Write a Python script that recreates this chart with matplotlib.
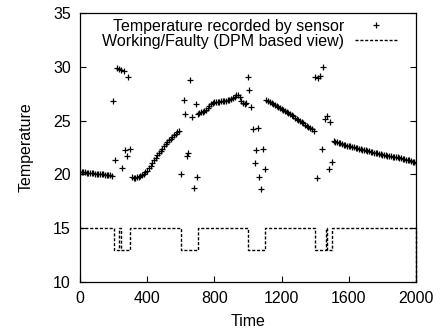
import numpy as np
import matplotlib
matplotlib.use("Agg")
import matplotlib.pyplot as plt

plt.rcParams['font.family'] = ['Liberation Sans', 'DejaVu Sans']
plt.rcParams['font.size'] = 11.5

# ---- sensor readings, smooth parts (sampled every 10 time units) ----
seg_a_time = np.arange(0, 200, 10)
seg_a_temp = [20.25, 20.22, 20.2, 20.18, 20.16, 20.15, 20.13, 20.12, 20.1, 20.08,
              20.06, 20.05, 20.03, 20.02, 20.0, 19.98, 19.96, 19.94, 19.92, 19.88]

seg_b_time = np.arange(310, 600, 10)
seg_b_temp = [19.72, 19.7, 19.7, 19.72, 19.78, 19.85, 19.95, 20.05, 20.2, 20.35,
              20.55, 20.8, 21.05, 21.3, 21.55, 21.8, 22.0, 22.2, 22.4, 22.6,
              22.8, 22.97, 23.15, 23.32, 23.48, 23.63, 23.78, 23.92, 24.05]

seg_c_time = np.arange(700, 1000, 10)
seg_c_temp = [25.65, 25.7, 25.75, 25.8, 25.85, 25.95, 26.15, 26.35, 26.5, 26.62,
              26.7, 26.72, 26.74, 26.75, 26.77, 26.8, 26.82, 26.86, 26.9, 26.95,
              27.02, 27.1, 27.22, 27.35, 27.42, 27.2, 26.85, 26.6, 26.55, 26.65]

seg_d_time = np.arange(1110, 1400, 10)
seg_d_temp = [26.9, 26.82, 26.72, 26.63, 26.55, 26.45, 26.36, 26.27, 26.17, 26.08,
              25.98, 25.88, 25.78, 25.68, 25.58, 25.48, 25.38, 25.27, 25.17, 25.06,
              24.96, 24.85, 24.74, 24.63, 24.52, 24.41, 24.3, 24.18, 24.05]

seg_e_time = np.arange(1510, 2010, 10)
seg_e_temp = [23.08, 23.02, 22.97, 22.92, 22.87, 22.82, 22.77, 22.72, 22.67, 22.63,
              22.59, 22.55, 22.51, 22.47, 22.43, 22.39, 22.35, 22.31, 22.27, 22.23,
              22.19, 22.15, 22.11, 22.07, 22.03, 21.99, 21.95, 21.91, 21.87, 21.84,
              21.81, 21.78, 21.75, 21.72, 21.69, 21.66, 21.63, 21.6, 21.57, 21.54,
              21.5, 21.46, 21.42, 21.38, 21.34, 21.29, 21.24, 21.18, 21.12, 21.05]

# ---- sensor readings during faulty windows ----
fault_time = [199, 210, 218, 232, 246, 260, 248, 266, 278, 288, 300,
              604, 620, 628, 636, 644, 657, 669, 677, 689, 699,
              1000, 1009, 1019, 1031, 1041, 1049, 1059, 1068, 1080, 1090, 1100,
              1399, 1410, 1418, 1428, 1440, 1448, 1458, 1468, 1480, 1490, 1501]
fault_temp = [26.77, 21.3, 29.9, 29.78, 29.68, 29.58, 20.56, 22.27, 21.7, 29.04, 22.4,
              20.03, 26.93, 25.6, 21.7, 22.0, 28.73, 25.3, 18.76, 26.55, 19.78,
              29.04, 27.86, 26.27, 24.25, 21.1, 22.27, 24.3, 19.78, 18.6, 22.35, 20.53,
              29.05, 19.7, 28.95, 29.15, 22.33, 29.94, 25.15, 25.43, 20.53, 24.9, 21.15]

# ---- DPM based working/faulty view (step) ----
dpm_time = [0, 200, 234, 244, 300, 600, 700, 1000, 1100, 1400, 1462, 1472, 1500, 2000]
dpm_value = [15, 13, 15, 13, 15, 13, 15, 13, 15, 13, 15, 13, 15, 10]

sensor_time = np.concatenate([seg_a_time, seg_b_time, seg_c_time, seg_d_time,
                              seg_e_time, fault_time])
sensor_temp = np.concatenate([seg_a_temp, seg_b_temp, seg_c_temp, seg_d_temp,
                              seg_e_temp, fault_temp])

fig = plt.figure(figsize=(4.44, 3.31), dpi=100)
ax = fig.add_axes([0.180, 0.148, 0.757, 0.813])

ax.plot(sensor_time, sensor_temp, linestyle='none', marker='+', color='black',
        markersize=4.5, markeredgewidth=0.9, label='Temperature recorded by sensor')
ax.plot(dpm_time, dpm_value, drawstyle='steps-post', color='black', linewidth=1.0,
        linestyle=(0, (2.2, 1.3)), clip_on=False, label='Working/Faulty (DPM based view)')

ax.set_xlim(0, 2000)
ax.set_ylim(10, 35)
ax.set_xticks([0, 400, 800, 1200, 1600, 2000])
ax.set_yticks([10, 15, 20, 25, 30, 35])
ax.tick_params(direction='in', length=4.5, width=0.8, right=True, top=False, pad=6.5)
for s in ax.spines.values():
    s.set_linewidth(0.9)

ax.set_xlabel('Time', labelpad=5.5)
ax.set_ylabel('Temperature', labelpad=14)

ax.legend(loc='upper right', bbox_to_anchor=(397 / 444, 1 - 19 / 331),
          bbox_transform=fig.transFigure, frameon=False, markerfirst=False,
          borderpad=0, handlelength=2.6, handletextpad=0.7, labelspacing=0.0,
          borderaxespad=0)

fig.savefig('out.png', dpi=100)
